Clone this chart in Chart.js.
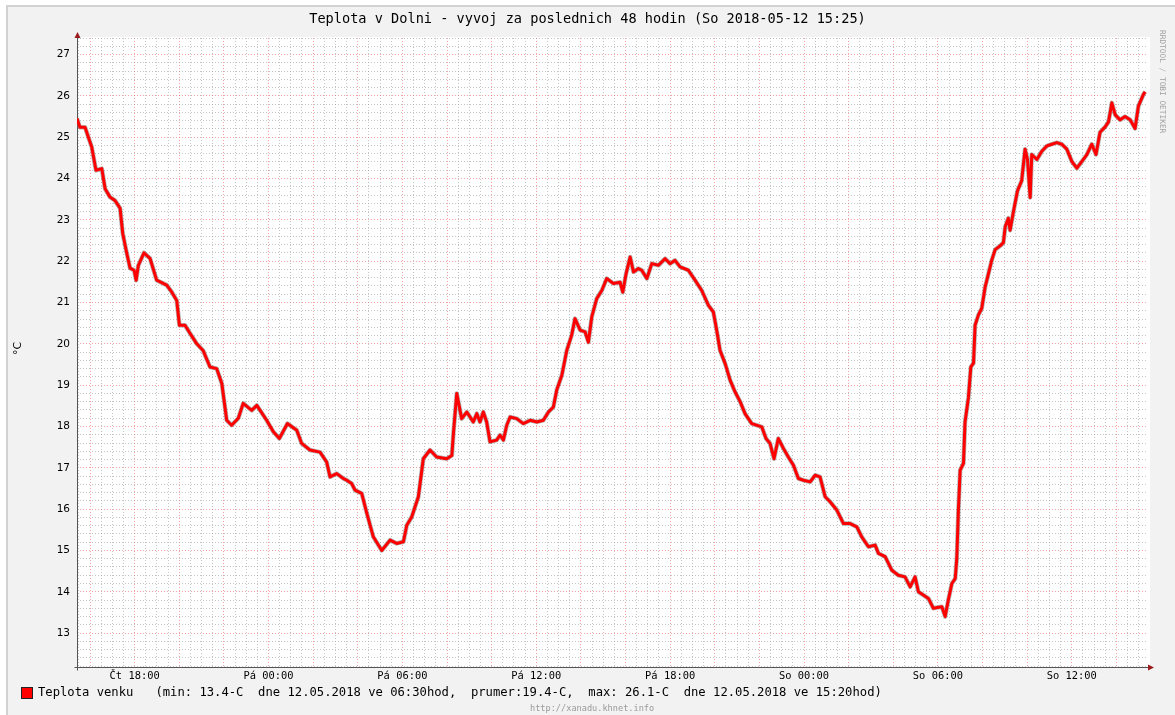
<!DOCTYPE html>
<html>
<head>
<meta charset="utf-8">
<title>Teplota v Dolni</title>
<script src="https://cdn.jsdelivr.net/npm/chart.js@4/dist/chart.umd.min.js"></script>
<style>
  html, body { margin: 0; padding: 0; background: #fff; }
  #ramecek {
    position: absolute; left: 6px; top: 5px; width: 1169px; height: 710px;
    background: #f2f2f2; border-left: 2px solid #d2d2d2; border-top: 2px solid #d2d2d2;
    box-sizing: border-box;
  }
  #graf { position: absolute; left: 0; top: 0; }
  .txt { position: absolute; font-family: 'DejaVu Sans Mono', monospace; white-space: pre; color: #000; }
  #nadpis { left: 0; width: 1175px; top: 10px; text-align: center; font-size: 13.6px; }
  #osaY { left: 11px; top: 342px; font-family: 'DejaVu Sans', sans-serif; font-size: 11px; transform: rotate(-90deg); transform-origin: 50% 50%; }
  #legenda { left: 38px; top: 685px; font-size: 12.2px; }
  #ctverec { position: absolute; left: 21px; top: 687px; width: 10px; height: 10px; background: #f00; border: 1px solid #222; }
  #web { left: 530px; top: 703px; font-size: 8.6px; color: #9a9a9a; }
  #autor { left: 1158px; top: 30px; font-size: 7.8px; color: #a0a0a0; writing-mode: vertical-rl; }
</style>
</head>
<body>
<div id="ramecek"></div>
<canvas id="graf" width="1175" height="715"></canvas>
<div class="txt" id="nadpis">Teplota v Dolni - vyvoj za poslednich 48 hodin (So 2018-05-12 15:25)</div>
<div class="txt" id="osaY">°C</div>
<div id="ctverec"></div>
<div class="txt" id="legenda">Teplota venku   (min: 13.4-C  dne 12.05.2018 ve 06:30hod,  prumer:19.4-C,  max: 26.1-C  dne 12.05.2018 ve 15:20hod)</div>
<div class="txt" id="web">http://xanadu.khnet.info</div>
<div class="txt" id="autor">RRDTOOL / TOBI OETIKER</div>
<script>
// hodiny od zacatku okna (Čt 15:25), teplota ve °C
const hodiny = [
  0, 0.13, 0.36, 0.51, 0.66, 0.85, 1.11, 1.26, 1.48, 1.70,
  1.93, 2.05, 2.23, 2.38, 2.56, 2.65, 2.75, 3.00, 3.27, 3.57,
  4.02, 4.25, 4.47, 4.59, 4.84, 5.07, 5.37, 5.65, 5.96, 6.26,
  6.49, 6.71, 6.93, 7.23, 7.45, 7.83, 8.06, 8.50, 8.80, 9.07,
  9.43, 9.85, 10.07, 10.44, 10.89, 11.19, 11.34, 11.64, 11.94, 12.09,
  12.31, 12.46, 12.76, 12.99, 13.28, 13.66, 14.03, 14.33, 14.63, 14.78,
  15.00, 15.30, 15.52, 15.82, 16.12, 16.57, 16.80, 16.87, 17.02, 17.24,
  17.47, 17.76, 17.92, 18.06, 18.21, 18.36, 18.51, 18.81, 18.96, 19.11,
  19.26, 19.41, 19.71, 20.00, 20.31, 20.61, 20.90, 21.13, 21.35, 21.50,
  21.73, 21.95, 22.17, 22.32, 22.55, 22.77, 22.92, 23.07, 23.29, 23.52,
  23.74, 24.04, 24.34, 24.46, 24.61, 24.79, 24.94, 25.16, 25.31, 25.54,
  25.76, 26.06, 26.36, 26.58, 26.80, 27.03, 27.40, 27.70, 28.00, 28.30,
  28.52, 28.67, 28.82, 29.05, 29.27, 29.49, 29.72, 29.94, 30.24, 30.69,
  30.88, 31.06, 31.24, 31.43, 31.66, 31.88, 32.11, 32.33, 32.56, 32.86,
  33.08, 33.30, 33.53, 33.75, 34.05, 34.35, 34.65, 34.95, 35.17, 35.47,
  35.77, 35.92, 36.22, 36.52, 36.81, 37.11, 37.34, 37.56, 37.71, 37.93,
  38.16, 38.38, 38.76, 38.91, 39.05, 39.21, 39.36, 39.43, 39.50, 39.58,
  39.73, 39.80, 39.95, 40.06, 40.18, 40.25, 40.40, 40.55, 40.70, 40.85,
  41.00, 41.15, 41.37, 41.52, 41.60, 41.74, 41.82, 41.97, 42.15, 42.34,
  42.49, 42.60, 42.72, 42.79, 43.02, 43.24, 43.47, 43.69, 43.91, 44.14,
  44.36, 44.59, 44.81, 45.03, 45.26, 45.48, 45.67, 45.85, 46.08, 46.23,
  46.38, 46.53, 46.75, 46.97, 47.20, 47.42, 47.57, 47.80, 47.87
];
const teplota = [
  25.45, 25.24, 25.24, 25.00, 24.76, 24.20, 24.24, 23.75, 23.55, 23.47,
  23.28, 22.67, 22.19, 21.83, 21.78, 21.54, 21.90, 22.20, 22.07, 21.54,
  21.42, 21.25, 21.05, 20.45, 20.45, 20.25, 20.00, 19.84, 19.44, 19.40,
  19.04, 18.15, 18.03, 18.20, 18.56, 18.39, 18.51, 18.15, 17.87, 17.71,
  18.07, 17.91, 17.59, 17.43, 17.38, 17.14, 16.78, 16.86, 16.74, 16.70,
  16.62, 16.46, 16.38, 15.90, 15.33, 15.00, 15.25, 15.17, 15.21, 15.61,
  15.81, 16.30, 17.22, 17.43, 17.26, 17.22, 17.30, 17.83, 18.80, 18.19,
  18.35, 18.11, 18.31, 18.11, 18.35, 18.11, 17.63, 17.67, 17.79, 17.67,
  18.03, 18.23, 18.19, 18.07, 18.15, 18.11, 18.15, 18.35, 18.47, 18.88,
  19.24, 19.84, 20.21, 20.61, 20.33, 20.29, 20.04, 20.65, 21.09, 21.29,
  21.58, 21.46, 21.49, 21.25, 21.70, 22.10, 21.74, 21.82, 21.78, 21.58,
  21.94, 21.90, 22.06, 21.94, 22.02, 21.86, 21.78, 21.54, 21.29, 20.93,
  20.77, 20.33, 19.84, 19.52, 19.12, 18.84, 18.60, 18.31, 18.07, 17.99,
  17.71, 17.59, 17.22, 17.71, 17.47, 17.26, 17.06, 16.74, 16.70, 16.66,
  16.82, 16.78, 16.30, 16.18, 15.98, 15.65, 15.65, 15.57, 15.33, 15.09,
  15.13, 14.93, 14.85, 14.52, 14.40, 14.36, 14.12, 14.36, 14.00, 13.92,
  13.84, 13.60, 13.64, 13.40, 13.80, 14.20, 14.32, 14.80, 15.94, 16.94,
  17.11, 18.11, 18.69, 19.44, 19.53, 20.45, 20.70, 20.86, 21.37, 21.70,
  22.03, 22.28, 22.37, 22.45, 22.83, 23.04, 22.75, 23.20, 23.70, 23.95,
  24.71, 24.46, 23.54, 24.58, 24.46, 24.66, 24.79, 24.83, 24.87, 24.83,
  24.71, 24.41, 24.25, 24.41, 24.58, 24.83, 24.58, 25.12, 25.25, 25.37,
  25.83, 25.54, 25.42, 25.50, 25.42, 25.21, 25.75, 26.04, 26.10
];

// popisky casove osy a jejich poloha (hodiny od zacatku)
const popiskyX = ['Čt 18:00', 'Pá 00:00', 'Pá 06:00', 'Pá 12:00', 'Pá 18:00', 'So 00:00', 'So 06:00', 'So 12:00'];
const hodinyPopisku = [2.5833, 8.5833, 14.5833, 20.5833, 26.5833, 32.5833, 38.5833, 44.5833];

const ZACATEK_MIN = 15 * 60 + 25; // cas zacatku okna v minutach dne
const body = hodiny.map((h, i) => ({ x: h, y: teplota[i] }));
const jeCele = v => Math.abs(v - Math.round(v)) < 1e-6;
const indexPopisku = v => hodinyPopisku.findIndex(t => Math.abs(t - v) < 0.01);
// hlavni mrizka kazde 2 hodiny (sude hodiny), vedlejsi po 30 minutach
const jeHlavniX = v => Math.round(ZACATEK_MIN + v * 60) % 120 === 0;

// bila plocha grafu a osy se sipkami
const ramGrafu = {
  id: 'ramGrafu',
  beforeDraw(chart) {
    const { ctx, chartArea: a } = chart;
    ctx.save();
    ctx.fillStyle = '#fff';
    ctx.fillRect(a.left, a.top - 1, a.right - a.left + 2, a.bottom - a.top + 1);
    ctx.restore();
  },
  beforeDatasetsDraw(chart) {
    const { ctx, chartArea: a } = chart;
    const x0 = Math.round(a.left) + 0.5, y0 = Math.round(a.bottom) + 0.5;
    ctx.save();
    ctx.strokeStyle = '#555';
    ctx.lineWidth = 1;
    ctx.beginPath();
    ctx.moveTo(x0, y0 + 3);
    ctx.lineTo(x0, a.top - 2);
    ctx.moveTo(x0 - 3, y0);
    ctx.lineTo(a.right + 2, y0);
    ctx.stroke();
    ctx.fillStyle = '#9b1c1c';
    ctx.beginPath();
    ctx.moveTo(x0, a.top - 6);
    ctx.lineTo(x0 - 3, a.top);
    ctx.lineTo(x0 + 3, a.top);
    ctx.closePath();
    ctx.fill();
    ctx.beginPath();
    ctx.moveTo(a.right + 6, y0);
    ctx.lineTo(a.right, y0 - 3);
    ctx.lineTo(a.right, y0 + 3);
    ctx.closePath();
    ctx.fill();
    ctx.restore();
  }
};

const mrizkaSeda = 'rgba(140,140,140,0.5)';
const mrizkaCervena = 'rgba(235,70,70,0.5)';

new Chart(document.getElementById('graf'), {
  type: 'line',
  data: {
    datasets: [
      {
        data: body,
        borderColor: '#ff0000',
        borderWidth: 3,
        pointRadius: 0,
        tension: 0,
        borderJoinStyle: 'round'
      },
      {
        data: body,
        borderColor: 'rgba(110,110,110,0.5)',
        borderWidth: 4.5,
        pointRadius: 0,
        tension: 0,
        borderJoinStyle: 'round'
      }
    ]
  },
  options: {
    responsive: false,
    animation: false,
    events: [],
    layout: { padding: { top: 38, right: 27, left: 0, bottom: 0 } },
    plugins: { legend: { display: false }, tooltip: { enabled: false } },
    scales: {
      x: {
        type: 'linear',
        min: 0,
        max: 48,
        afterFit: s => { s.height = 48; },
        afterBuildTicks: s => {
          const t = [];
          for (let m = 5; m <= 48 * 60; m += 30) t.push({ value: m / 60 });
          s.ticks = t;
        },
        grid: {
          drawTicks: false,
          color: c => jeHlavniX(c.tick.value) ? mrizkaCervena : mrizkaSeda,
          lineWidth: 1
        },
        border: { display: false, dash: [1, 2] },
        ticks: {
          autoSkip: false,
          maxRotation: 0,
          padding: 3,
          color: '#000',
          font: { family: 'DejaVu Sans Mono', size: 10.4 },
          callback: v => { const i = indexPopisku(v); return i >= 0 ? popiskyX[i] : ''; }
        }
      },
      y: {
        min: 12.18,
        max: 27.4,
        afterFit: s => { s.width = 77; },
        afterBuildTicks: s => {
          const t = [];
          for (let k = 61; k <= 137; k++) t.push({ value: k / 5 });
          s.ticks = t;
        },
        grid: {
          drawTicks: false,
          color: c => jeCele(c.tick.value) ? mrizkaCervena : mrizkaSeda,
          lineWidth: 1
        },
        border: { display: false, dash: [1, 2] },
        ticks: {
          autoSkip: false,
          padding: 7,
          color: '#000',
          font: { family: 'DejaVu Sans', size: 10.5 },
          callback: v => jeCele(v) ? String(Math.round(v)) : ''
        }
      }
    }
  },
  plugins: [ramGrafu]
});
</script>
</body>
</html>
